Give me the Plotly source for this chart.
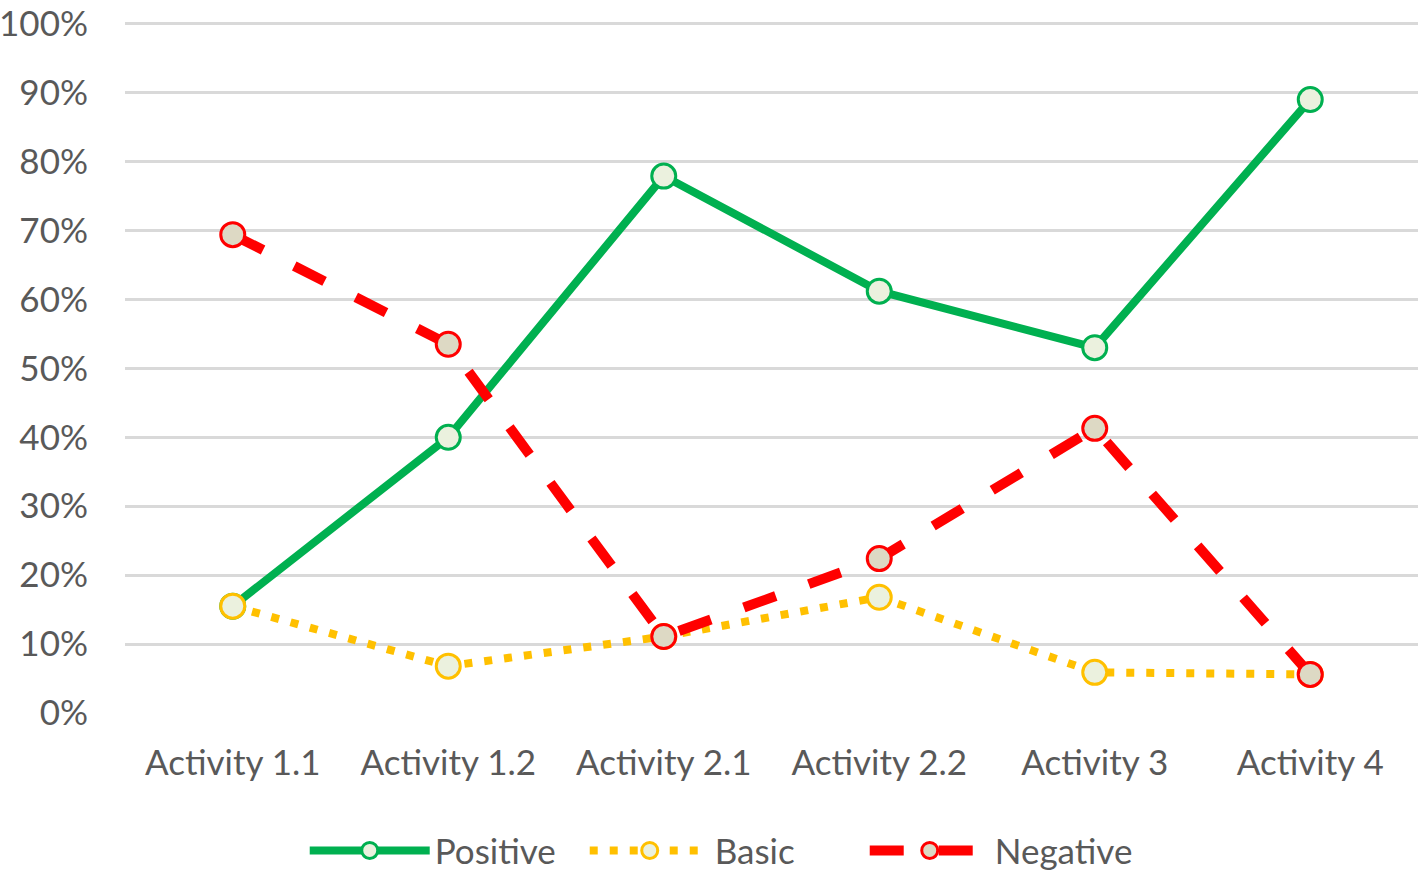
import plotly.graph_objects as go

activities = ["Activity 1.1", "Activity 1.2", "Activity 2.1", "Activity 2.2", "Activity 3", "Activity 4"]
positive = [0.155, 0.40, 0.779, 0.612, 0.530, 0.890]
basic = [0.155, 0.068, 0.111, 0.168, 0.059, 0.056]
negative = [0.694, 0.535, 0.111, 0.224, 0.413, 0.056]

y_ticks = [i / 10 for i in range(11)]

FONT = "Lato"
TEXT = "#595959"

fig = go.Figure()

fig.add_trace(go.Scatter(
    name="Positive", x=activities, y=positive, mode="lines+markers",
    line=dict(color="#00b050", width=8),
    marker=dict(size=24, color="#ebf1de", line=dict(color="#00b050", width=3)),
))
fig.add_trace(go.Scatter(
    name="Basic", x=activities, y=basic, mode="lines+markers",
    line=dict(color="#ffc000", width=8, dash="8px,12px"),
    marker=dict(size=24, color="#ebf1de", line=dict(color="#ffc000", width=3)),
))
fig.add_trace(go.Scatter(
    name="Negative", x=activities, y=negative, mode="lines+markers",
    line=dict(color="#ff0000", width=10, dash="34px,35px"),
    marker=dict(size=24, color="#ddd9c4", line=dict(color="#ff0000", width=3)),
))

fig.update_layout(
    width=1421, height=875,
    margin=dict(l=125, r=3, t=21, b=162, autoexpand=False),
    paper_bgcolor="white", plot_bgcolor="white",
    font=dict(family=FONT, size=35, color=TEXT),
    showlegend=True,
    legend=dict(orientation="h", x=0.139, xanchor="left", y=-0.199, yanchor="middle",
                font=dict(family=FONT, size=35, color=TEXT), itemwidth=120,
                entrywidth=145, traceorder="normal"),
    xaxis=dict(range=[-0.5, 5.5], showgrid=False, zeroline=False, showline=False,
               ticks="", ticklabelstandoff=26, automargin=False),
    yaxis=dict(range=[0, 1.004], tickvals=y_ticks, tickformat=".0%",
               showgrid=True, gridcolor="#d9d9d9", gridwidth=3,
               zeroline=False, showline=False, ticks="", ticklabelstandoff=36,
               automargin=False),
)

# drop the default 8px page margin so the figure sits at the window corner
fig.write_html("out.html", config={"displayModeBar": False},
               post_script="document.body.style.margin='0';")
